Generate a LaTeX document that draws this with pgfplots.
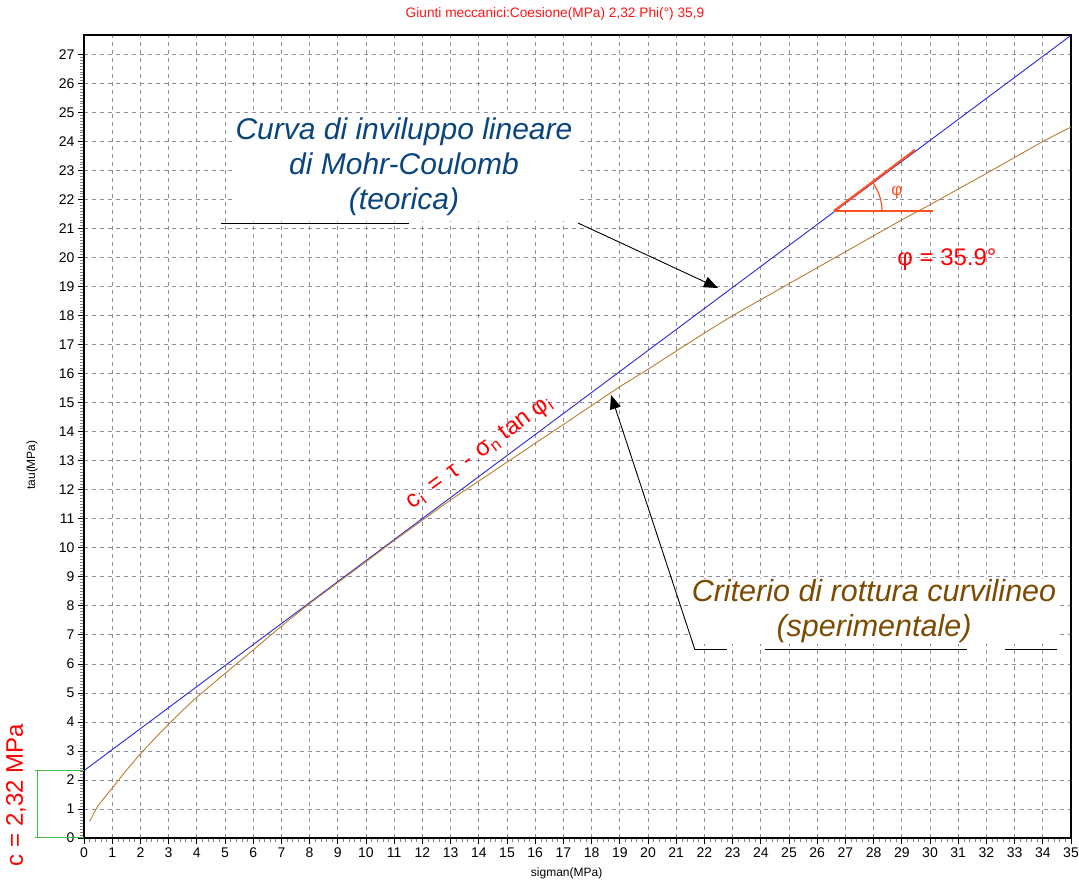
\documentclass[border=0pt]{standalone}
\usepackage{fontspec}
\setmainfont{Liberation Sans}
\usepackage{pgfplots}
\pgfplotsset{compat=1.18}
\usetikzlibrary{arrows.meta}
\definecolor{blueline}{RGB}{40,40,210}
\definecolor{brownline}{RGB}{185,125,45}
\definecolor{gridc}{RGB}{140,140,160}
\definecolor{titlered}{RGB}{255,20,20}
\definecolor{annblue}{RGB}{10,70,125}
\definecolor{annbrown}{RGB}{125,75,0}
\definecolor{orred}{RGB}{255,80,30}
\definecolor{greenb}{RGB}{70,185,70}

\pgfplotstableread{
s t
0.2 0.58
0.5 1.12
1 1.72
1.5 2.33
2 2.9
2.5 3.42
3 3.92
3.5 4.4
4 4.85
5 5.67
6 6.48
7 7.3
8 8.08
9 8.8
10 9.52
11 10.25
12 10.95
13 11.65
14 12.3
15 12.95
16 13.6
17 14.25
18 14.9
19 15.55
20 16.15
21 16.78
22 17.4
23 18.0
24 18.55
25 19.1
26 19.65
27 20.2
28 20.75
29 21.3
30 21.82
31 22.36
32 22.9
33 23.45
34 24.0
35 24.5
}\brownTable

\begin{document}
\begin{tikzpicture}
\path[use as bounding box] (-84pt,-44pt) rectangle (995pt,838pt);
\begin{axis}[
  at={(0pt,0pt)}, anchor=south west,
  scale only axis, width=987pt, height=803pt,
  xmin=0, xmax=35, ymin=0, ymax=27.67,
  xtick={0,1,...,35}, ytick={0,1,...,27},
  minor x tick num=4, minor y tick num=9,
  tick pos=left, tick align=outside,
  major tick length=6pt, minor tick length=4pt,
  major tick style={black, line width=0.7pt},
  minor tick style={gray, line width=0.6pt},
  grid=major,
  major grid style={gridc, dash pattern=on 4pt off 4pt, line width=0.7pt},
  axis line style={black, line width=1.2pt},
  tick label style={font=\fontsize{14}{16}\selectfont},
  /pgf/number format/assume math mode=true,
  xlabel={sigman(MPa)}, ylabel={tau(MPa)},
  xlabel style={at={(axis description cs:0.489,-0.0436)}, anchor=center, font=\fontsize{12}{14}\selectfont},
  ylabel style={at={(axis description cs:-0.0527,0.4645)}, anchor=center, font=\fontsize{12}{14}\selectfont},
  clip=false,
]
\addplot[blueline, line width=0.9pt] coordinates {(0,2.32) (35,27.657)};
\addplot[brownline, line width=0.9pt] table[x=s,y=t] {\brownTable};
\draw[black, line width=2.6pt] (rel axis cs:0,1) -- (rel axis cs:0,0) -- (rel axis cs:1,0);
\end{axis}
\begin{scope}[x=1pt, y=-1pt, shift={(-84pt,838pt)}]
  % title
  \node[titlered, font=\fontsize{13.7}{15}\selectfont] at (555,14) {Giunti meccanici:Coesione(MPa) 2,32 Phi(°) 35,9};
  % white boxes behind annotation texts
  \fill[white] (233,114) rectangle (577,221);
  \fill[white] (692,579) rectangle (1060,644);
  \node[annblue, font=\fontsize{30}{35}\selectfont\itshape, align=center] at (404,167) {Curva di inviluppo lineare\\di Mohr-Coulomb\\(teorica)};
  \draw[black, line width=1pt] (221,224) -- (409,224);
  \draw[black, line width=0.9pt, -{Triangle[length=14pt,width=11pt]}] (578,223) -- (718,288);
  \node[annbrown, font=\fontsize{30.5}{35}\selectfont\itshape, align=center] at (874,611) {Criterio di rottura curvilineo\\(sperimentale)};
  \draw[black, line width=1pt] (695,650) -- (727,650);
  \draw[black, line width=1pt] (765,650) -- (967,650);
  \draw[black, line width=1pt] (1005,650) -- (1057,650);
  \draw[black, line width=0.9pt, -{Triangle[length=14pt,width=11pt]}] (695,650) -- (611,395);
  % formula
  \node[red, rotate=36.5, font=\fontsize{24}{26}\selectfont, inner sep=0pt] at (480,453) {c\textsubscript{i}\hspace{10pt}=\hspace{10pt}τ\hspace{9pt}-\hspace{8pt}σ\textsubscript{n}\hspace{6pt}tan\hspace{6pt}φ\textsubscript{i}};
  % tangent construction
  \draw[orred, line width=2.2pt] (834,211) -- (915,150);
  \draw[orred, line width=1.5pt] (834,211) -- (933,211);
  \draw[orred, line width=1.2pt] (882,211) arc[start angle=0, end angle=36.7, radius=48pt];
  \node[orred, font=\fontsize{17}{19}\selectfont] at (897,193) {φ};
  \node[red, font=\fontsize{24}{26}\selectfont] at (947,260) {φ = 35.9°};
  % cohesion bracket
  \draw[greenb, line width=1pt] (35,770.6) -- (84,770.6);
  \draw[greenb, line width=1pt] (35,838) -- (84,838);
  \draw[greenb, line width=1pt] (38,770.6) -- (38,838);
  \node[red, rotate=90, font=\fontsize{24}{27}\selectfont] at (16,795) {c = 2,32 MPa};
\end{scope}
\end{tikzpicture}
\end{document}
